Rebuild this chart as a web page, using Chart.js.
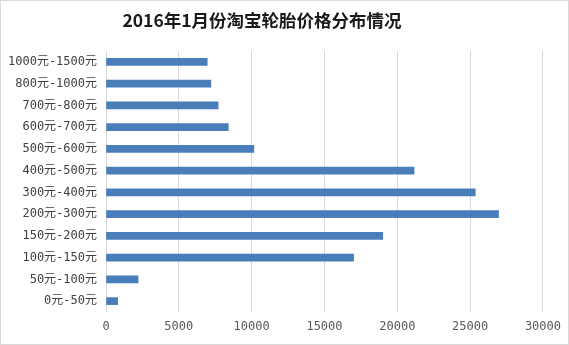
<!DOCTYPE html>
<html>
<head>
<meta charset="utf-8">
<script src="https://cdn.jsdelivr.net/npm/chart.js@4"></script>
<style>
  html, body { margin: 0; padding: 0; background: #fff; }
  #wrap { width: 569px; height: 345px; }
</style>
</head>
<body>
<div id="wrap"><canvas id="c" width="569" height="345"></canvas></div>
<script>
  // price bands, top to bottom as in the picture
  var priceBands = ['1000元-1500元', '800元-1000元', '700元-800元', '600元-700元', '500元-600元',
    '400元-500元', '300元-400元', '200元-300元', '150元-200元', '100元-150元', '50元-100元', '0元-50元'];
  var counts = [6950, 7200, 7700, 8400, 10150, 21150, 25350, 26950, 19000, 17000, 2200, 800];
  var xTicks = [0, 5000, 10000, 15000, 20000, 25000, 30000];
  var titleText = '2016年1月份淘宝轮胎价格分布情况';

  var tickFont = { family: '"DejaVu Sans Mono", "Noto Sans CJK SC", monospace', size: 12 };

  // white page, thin grey frame, and the title (sits a bit left of centre in the original)
  var frame = {
    id: 'frame',
    beforeDraw: function (chart) {
      var ctx = chart.ctx;
      ctx.save();
      ctx.fillStyle = '#fff';
      ctx.fillRect(0, 0, chart.width, chart.height);
      ctx.strokeStyle = '#d9d9d9';
      ctx.lineWidth = 1;
      ctx.strokeRect(0.5, 0.5, chart.width - 1, chart.height - 1);
      ctx.fillStyle = '#1a1a1a';
      ctx.font = 'bold 17.5px "Noto Sans CJK SC", sans-serif';
      ctx.textAlign = 'center';
      ctx.textBaseline = 'middle';
      ctx.fillText(titleText, 262, 20);
      ctx.restore();
    }
  };

  new Chart(document.getElementById('c'), {
    type: 'bar',
    data: {
      labels: priceBands,
      datasets: [{
        data: counts,
        backgroundColor: '#4a7ebb',
        barThickness: 7,
      }],
    },
    options: {
      indexAxis: 'y',
      responsive: false,
      animation: false,
      layout: { padding: { left: 0, right: 24, top: 51, bottom: 0 } },
      plugins: {
        legend: { display: false },
        tooltip: { enabled: false },
        title: { display: false },
      },
      scales: {
        x: {
          min: 0,
          max: 30000,
          afterBuildTicks: function (axis) {
            axis.ticks = xTicks.map(function (v) { return { value: v }; });
          },
          afterFit: function (axis) { axis.height = 33; },
          grid: { color: '#d9d9d9', drawTicks: false },
          border: { display: false },
          ticks: {
            color: '#595959', font: tickFont, padding: 8, maxRotation: 0,
            callback: function (v) { return String(v); },
          },
        },
        y: {
          afterFit: function (axis) { axis.width = 106; },
          grid: { display: false, drawTicks: false },
          border: { display: false },
          ticks: { color: '#404040', font: tickFont, padding: 9 },
        },
      },
    },
    plugins: [frame],
  });
</script>
</body>
</html>
